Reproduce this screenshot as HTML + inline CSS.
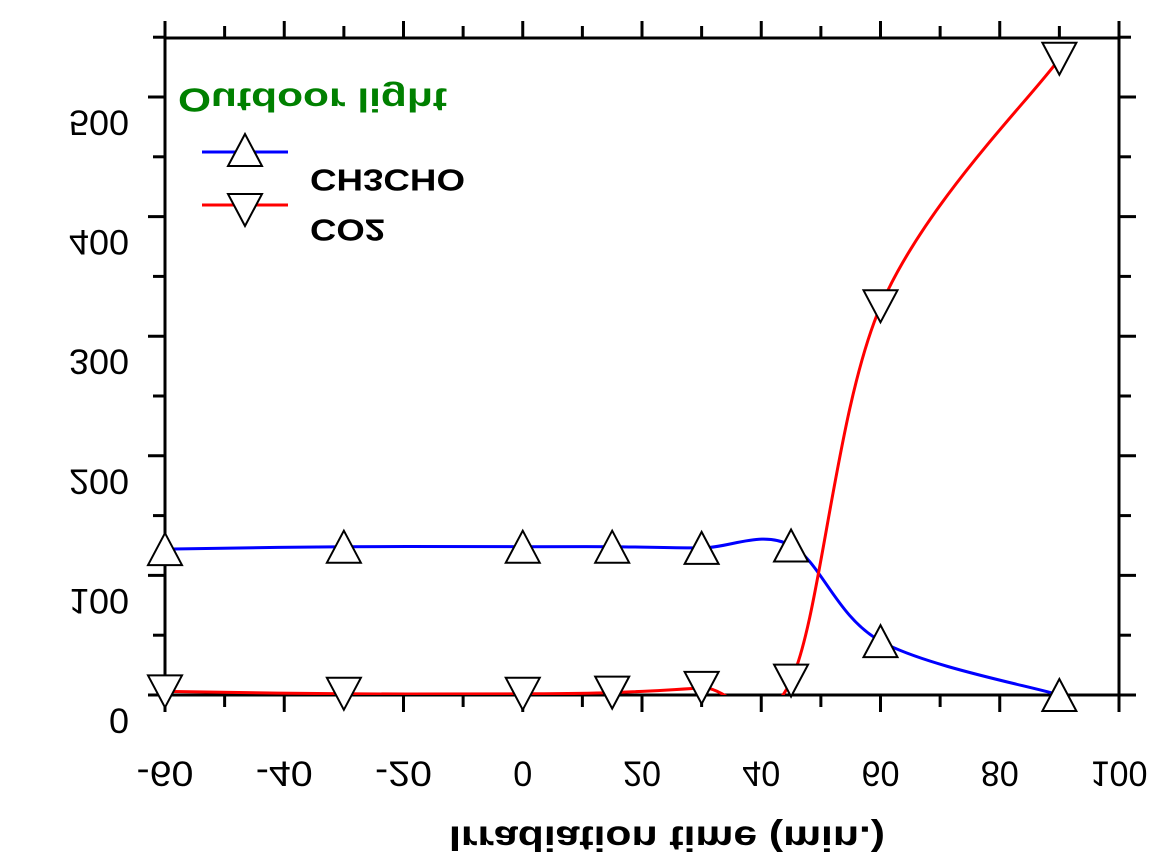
<!DOCTYPE html>
<html><head><meta charset="utf-8"><style>html,body{margin:0;padding:0;background:#fff}svg{display:block}text{font-family:"Liberation Sans",Arial,sans-serif}</style></head>
<body>
<svg id="chart" width="1153" height="867" viewBox="0 0 1153 867">
<defs><clipPath id="clip"><rect x="165" y="38" width="954" height="657"/></clipPath></defs>
<g id="axes"></g>
<g id="series" clip-path="url(#clip)"></g>
<g id="markers"></g>
<g id="labels"></g>
</svg>
<script>
const xTicks = [-60,-40,-20,0,20,40,60,80,100];
const yTicks = [0,100,200,300,400,500];
const timeCH3CHO = [-60,-30,0,15,30,45,60,90];
const valCH3CHO = [122,124,124,124,123,125,45,0];
const timeCO2 = [-60,-30,0,15,30,45,60,90];
const valCO2 = [3,1,1,2,6,12,325,532];

const NS='http://www.w3.org/2000/svg';
const X=v=>165+(v+60)*(954/160);
const Y=v=>695-v*1.196;
function mk(tag,attrs,parent){const e=document.createElementNS(NS,tag);for(const k in attrs)e.setAttribute(k,attrs[k]);parent.appendChild(e);return e;}
const axes=document.getElementById('axes'),series=document.getElementById('series'),markers=document.getElementById('markers'),labels=document.getElementById('labels');

function ftext(str,x,y,size,weight,fill,anchor,name,len){
  const a={transform:`translate(${x},${y}) scale(1,-1)`,'font-size':size,'font-weight':weight,fill:fill,'text-anchor':anchor,'dominant-baseline':'central'};
  if(len){a.textLength=len;a.lengthAdjust='spacingAndGlyphs';}
  const t=mk('text',a,labels);
  t.textContent=str;
  
  
  return t;
}

const fr=mk('rect',{x:165,y:38,width:954,height:657,fill:'none',stroke:'#000','stroke-width':3},axes);


for(let v=-60;v<=100;v+=10){
  const major=v%20===0, len=major?17:12;
  mk('line',{x1:X(v),y1:695,x2:X(v),y2:695+len,stroke:'#000','stroke-width':3},axes);
  mk('line',{x1:X(v),y1:38,x2:X(v),y2:38-len,stroke:'#000','stroke-width':3},axes);
}
for(let v=0;v<=550;v+=50){
  const major=v%100===0, len=major?17:12;
  mk('line',{x1:165,y1:Y(v),x2:165-len,y2:Y(v),stroke:'#000','stroke-width':3},axes);
  mk('line',{x1:1119,y1:Y(v),x2:1119+len,y2:Y(v),stroke:'#000','stroke-width':3},axes);
}
xTicks.forEach(v=>{const s=String(v);ftext(s,X(v),773,35,'normal','#000','middle','x-tick-label',s.length*19);});
yTicks.forEach(v=>{const s=String(v);ftext(s,129,Y(v)+25,35,'normal','#000','end','y-tick-label',s.length*20);});
ftext('Irradiation time (min.)',667,838,35,'bold','#000','middle','x-axis-title',436);
ftext('Outdoor light',178,100,33,'bold','#008000','start','legend-title',269);
ftext('CH3CHO',310,180,31,'bold','#000','start','legend-label-ch3cho',155);
ftext('CO2',310,230,31,'bold','#000','start','legend-label-co2',75);

function curve(xs,ys){
  const p=xs.map((x,i)=>[X(x),Y(ys[i])]);
  let d=`M${p[0][0]},${p[0][1]}`;
  for(let i=0;i<p.length-1;i++){
    const p0=p[Math.max(0,i-1)],p1=p[i],p2=p[i+1],p3=p[Math.min(p.length-1,i+2)];
    d+=` C${p1[0]+(p2[0]-p0[0])/6},${p1[1]+(p2[1]-p0[1])/6} ${p2[0]-(p3[0]-p1[0])/6},${p2[1]-(p3[1]-p1[1])/6} ${p2[0]},${p2[1]}`;
  }
  return d;
}
const l1=mk('path',{d:curve(timeCH3CHO,valCH3CHO),fill:'none',stroke:'#0000ff','stroke-width':3},series);


const l2=mk('path',{d:curve(timeCO2,valCO2),fill:'none',stroke:'#ff0000','stroke-width':3},series);



function tri(x,y,up,name){
  const h=16,w=17;
  const pts=up?`${x},${y-h} ${x-w},${y+h} ${x+w},${y+h}`:`${x},${y+h} ${x-w},${y-h} ${x+w},${y-h}`;
  const e=mk('polygon',{points:pts,fill:'#fff',stroke:'#000','stroke-width':2},markers);
  
  
}
timeCH3CHO.forEach((t,i)=>tri(X(t),Y(valCH3CHO[i]),true,'marker-ch3cho'));
timeCO2.forEach((t,i)=>tri(X(t),Y(valCO2[i]),false,'marker-co2'));

mk('line',{x1:202,y1:152,x2:288,y2:152,stroke:'#0000ff','stroke-width':3},markers);
tri(245,150,true,'legend-marker-ch3cho');
mk('line',{x1:202,y1:205,x2:288,y2:205,stroke:'#ff0000','stroke-width':3},markers);
tri(245,210,false,'legend-marker-co2');
</script>
</body></html>
